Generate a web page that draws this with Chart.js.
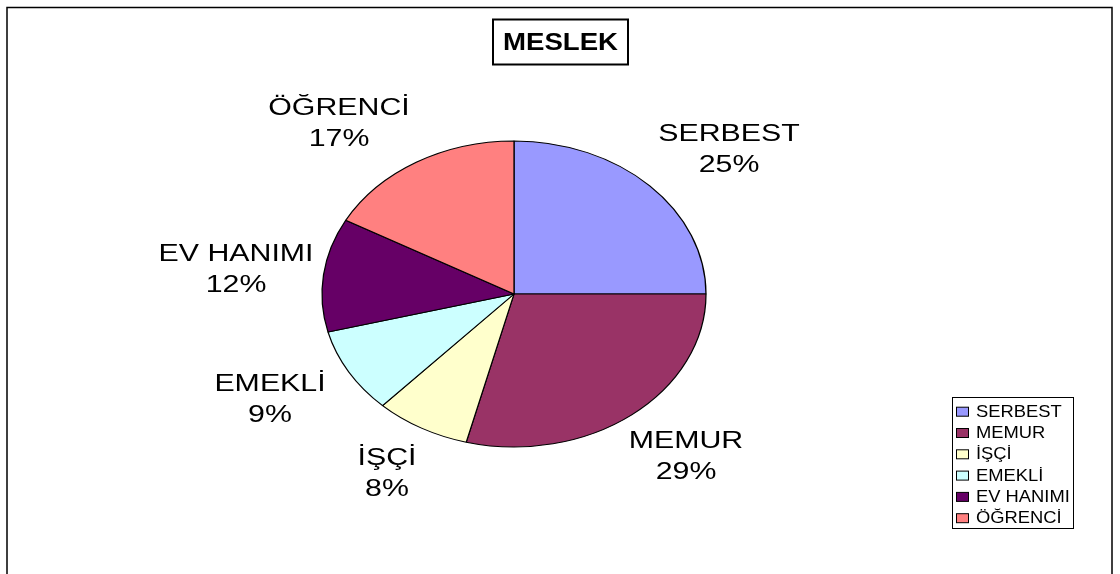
<!DOCTYPE html>
<html><head><meta charset="utf-8">
<script src="https://cdn.jsdelivr.net/npm/chart.js@4/dist/chart.umd.min.js"></script>
<style>html,body{margin:0;padding:0;background:#fff;}canvas{display:block;}</style>
</head><body>
<canvas id="c" width="1120" height="574"></canvas>
<script>
const categories = ['SERBEST', 'MEMUR', 'İŞÇİ', 'EMEKLİ', 'EV HANIMI', 'ÖĞRENCİ'];
const values = [25, 29, 8, 9, 12, 17];
const colors = ['#9999FF', '#993366', '#FFFFCC', '#CCFFFF', '#660066', '#FF8080'];
const titleText = 'MESLEK';
// label anchor points (layout only): center x, baseline of first line
const labelPos = [[729, 141], [686, 448], [387, 465], [270, 391], [236, 261], [339, 115]];

const RX = 192, RY = 153;

function stretchText(ctx, text, x, y, font, sx, align) {
  ctx.save();
  ctx.font = font;
  ctx.translate(x, y);
  ctx.scale(sx, 1);
  ctx.textAlign = align || 'center';
  ctx.textBaseline = 'alphabetic';
  ctx.fillStyle = '#000';
  ctx.fillText(text, 0, 0);
  ctx.restore();
}

const ellipsePlugin = {
  id: 'ellipse',
  beforeDatasetsDraw(chart) {
    const arc = chart.getDatasetMeta(0).data[0];
    const ctx = chart.ctx;
    ctx.save();
    ctx.translate(arc.x, arc.y);
    ctx.scale(RX / arc.outerRadius, RY / arc.outerRadius);
    ctx.translate(-arc.x, -arc.y);
  },
  afterDatasetsDraw(chart) {
    chart.ctx.restore();
  }
};

const decorPlugin = {
  id: 'decor',
  beforeDraw(chart) {
    const ctx = chart.ctx;
    ctx.save();
    ctx.fillStyle = '#fff';
    ctx.fillRect(0, 0, chart.width, chart.height);
    ctx.strokeStyle = '#000';
    ctx.lineWidth = 1.5;
    ctx.beginPath();
    ctx.moveTo(7, 580);
    ctx.lineTo(7, 7.5);
    ctx.lineTo(1112, 7.5);
    ctx.lineTo(1112, 580);
    ctx.stroke();
    ctx.restore();
  },
  afterDraw(chart) {
    const ctx = chart.ctx;
    const total = values.reduce((a, b) => a + b, 0);
    // title box
    ctx.save();
    ctx.strokeStyle = '#000';
    ctx.lineWidth = 2;
    ctx.strokeRect(493, 19.5, 135, 45);
    ctx.restore();
    stretchText(ctx, titleText, 560.5, 49.5, 'bold 23px "Liberation Sans", Arial, sans-serif', 1.2);
    // data labels
    const meta = chart.getDatasetMeta(0);
    meta.data.forEach((arc, i) => {
      const [x, y] = labelPos[i];
      const pct = Math.round(values[i] / total * 100) + '%';
      stretchText(ctx, categories[i], x, y, '23.5px "Liberation Sans", Arial, sans-serif', 1.29);
      stretchText(ctx, pct, x, y + 31, '23.5px "Liberation Sans", Arial, sans-serif', 1.29);
    });
    // legend
    ctx.save();
    ctx.strokeStyle = '#000';
    ctx.lineWidth = 1;
    ctx.fillStyle = '#fff';
    ctx.fillRect(952.5, 397.5, 121, 131);
    ctx.strokeRect(952.5, 397.5, 121, 131);
    categories.forEach((c, i) => {
      const y = 416.7 + i * 21.3;
      ctx.fillStyle = colors[i];
      ctx.fillRect(956.5, y - 9.5, 12, 9);
      ctx.strokeStyle = '#000';
      ctx.lineWidth = 1;
      ctx.strokeRect(956.5, y - 9.5, 12, 9);
    });
    ctx.restore();
    categories.forEach((c, i) => {
      const y = 416.7 + i * 21.3;
      stretchText(ctx, c, 976, y, '17px "Liberation Sans", Arial, sans-serif', 1.08, 'left');
    });
  }
};

new Chart(document.getElementById('c'), {
  type: 'pie',
  data: {
    labels: categories,
    datasets: [{
      data: values,
      backgroundColor: colors,
      borderColor: '#000',
      borderWidth: 1
    }]
  },
  options: {
    responsive: false,
    animation: false,
    events: [],
    layout: { padding: { left: 361, right: 453, top: 141, bottom: 127 } },
    plugins: {
      legend: { display: false },
      title: { display: false },
      tooltip: { enabled: false }
    }
  },
  plugins: [decorPlugin, ellipsePlugin]
});
</script>
</body></html>
